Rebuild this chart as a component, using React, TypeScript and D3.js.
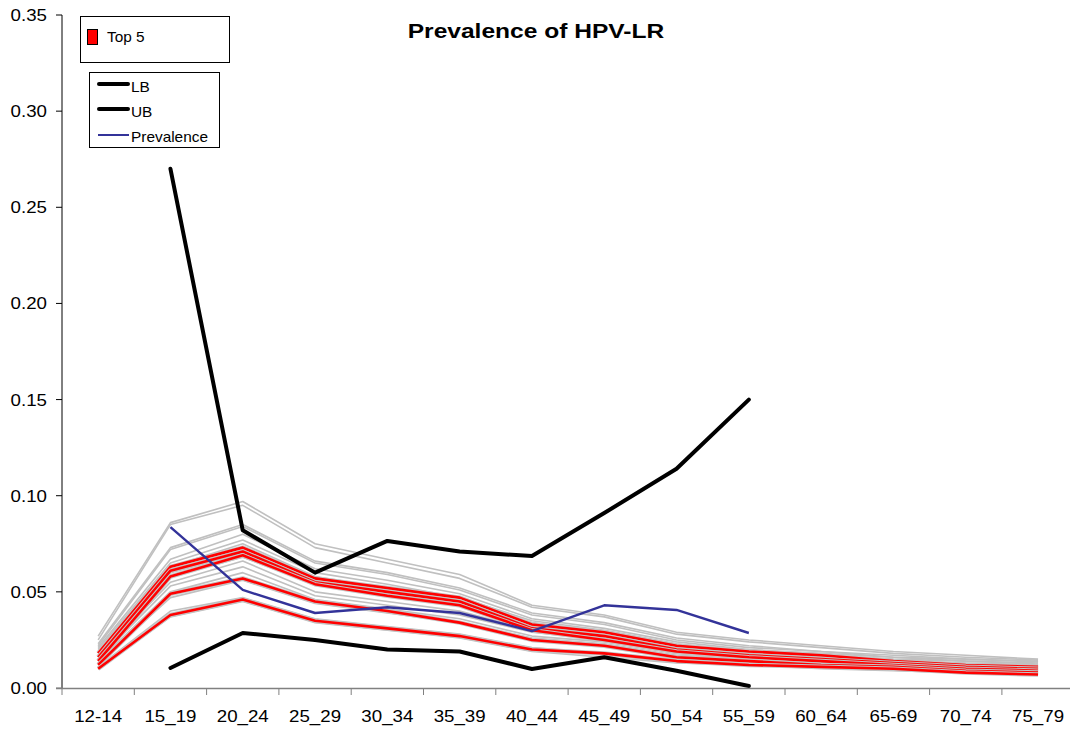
import React from "react";
import { scaleBand, scaleLinear, line } from "d3";

// age groups on the x axis
const categories = [
  "12-14", "15_19", "20_24", "25_29", "30_34", "35_39", "40_44",
  "45_49", "50_54", "55_59", "60_64", "65-69", "70_74", "75_79"
];
const yTicks = [0, 0.05, 0.1, 0.15, 0.2, 0.25, 0.3, 0.35];

// bounds and observed prevalence (only 15_19 .. 55_59)
const lb = [null, 0.0104, 0.0286, 0.025, 0.020, 0.019, 0.0099, 0.016, 0.009, 0.001, null, null, null, null];
const ub = [null, 0.270, 0.082, 0.060, 0.0765, 0.071, 0.0686, 0.091, 0.114, 0.150, null, null, null, null];
const prevalence = [null, 0.0837, 0.051, 0.039, 0.042, 0.039, 0.0296, 0.043, 0.0406, 0.0286, null, null, null, null];

// simulated fits (grey)
const grey1 = [0.027, 0.086, 0.097, 0.075, 0.067, 0.059, 0.043, 0.038, 0.029, 0.025, 0.022, 0.019, 0.017, 0.015];
const grey2 = [0.025, 0.085, 0.095, 0.073, 0.065, 0.057, 0.042, 0.037, 0.028, 0.024, 0.021, 0.018, 0.016, 0.0145];
const grey3 = [0.023, 0.073, 0.085, 0.066, 0.060, 0.052, 0.039, 0.034, 0.026, 0.022, 0.019, 0.017, 0.015, 0.014];
const grey4 = [0.022, 0.072, 0.084, 0.065, 0.059, 0.051, 0.038, 0.033, 0.025, 0.021, 0.019, 0.016, 0.015, 0.0135];
const grey5 = [0.021, 0.067, 0.080, 0.062, 0.056, 0.049, 0.036, 0.031, 0.024, 0.020, 0.018, 0.016, 0.014, 0.013];
const grey6 = [0.020, 0.065, 0.077, 0.060, 0.054, 0.047, 0.035, 0.030, 0.023, 0.019, 0.017, 0.015, 0.014, 0.0125];
const grey7 = [0.019, 0.063, 0.075, 0.058, 0.052, 0.046, 0.034, 0.029, 0.022, 0.019, 0.016, 0.014, 0.013, 0.012];
const grey8 = [0.018, 0.060, 0.070, 0.055, 0.050, 0.044, 0.032, 0.028, 0.021, 0.018, 0.016, 0.014, 0.012, 0.0115];
const grey9 = [0.017, 0.058, 0.068, 0.054, 0.048, 0.043, 0.031, 0.027, 0.020, 0.017, 0.015, 0.013, 0.012, 0.011];
const grey10 = [0.016, 0.055, 0.066, 0.050, 0.045, 0.040, 0.030, 0.026, 0.019, 0.016, 0.014, 0.013, 0.011, 0.0105];
const grey11 = [0.015, 0.053, 0.063, 0.048, 0.043, 0.038, 0.029, 0.025, 0.018, 0.016, 0.014, 0.012, 0.011, 0.010];
const grey12 = [0.014, 0.050, 0.060, 0.046, 0.041, 0.036, 0.027, 0.024, 0.018, 0.015, 0.013, 0.012, 0.010, 0.0095];
const grey13 = [0.013, 0.047, 0.056, 0.044, 0.039, 0.034, 0.026, 0.023, 0.017, 0.015, 0.013, 0.011, 0.010, 0.009];
const grey14 = [0.011, 0.040, 0.047, 0.036, 0.032, 0.028, 0.021, 0.018, 0.014, 0.013, 0.011, 0.010, 0.009, 0.008];
const grey15 = [0.010, 0.037, 0.045, 0.034, 0.030, 0.026, 0.019, 0.016, 0.013, 0.012, 0.010, 0.009, 0.008, 0.007];
const greys = [grey1, grey2, grey3, grey4, grey5, grey6, grey7, grey8, grey9, grey10, grey11, grey12, grey13, grey14, grey15];

// top 5 fits (red)
const top1 = [0.018, 0.063, 0.073, 0.057, 0.052, 0.047, 0.033, 0.029, 0.022, 0.019, 0.017, 0.014, 0.012, 0.011];
const top2 = [0.016, 0.061, 0.071, 0.055, 0.050, 0.045, 0.031, 0.027, 0.020, 0.017, 0.015, 0.013, 0.011, 0.010];
const top3 = [0.014, 0.058, 0.069, 0.054, 0.048, 0.043, 0.030, 0.025, 0.019, 0.016, 0.014, 0.012, 0.010, 0.009];
const top4 = [0.012, 0.049, 0.057, 0.045, 0.040, 0.034, 0.025, 0.022, 0.016, 0.014, 0.012, 0.011, 0.009, 0.008];
const top5 = [0.010, 0.038, 0.046, 0.035, 0.031, 0.027, 0.020, 0.018, 0.014, 0.012, 0.011, 0.010, 0.008, 0.007];
const tops = [top1, top2, top3, top4, top5];

const font = "Arial, 'Liberation Sans', sans-serif";
const sx = 1.17; // text in the original is a little wide

export default function App() {
  const x = scaleBand().domain(categories).range([62, 62 + 14 * 72.3]);
  const y = scaleLinear().domain([0, 0.35]).range([688, 15]);
  const bw = x.bandwidth();
  const cx = (i: number) => (x(categories[i]) as number) + bw / 2;

  const path = line<number | null>()
    .defined(d => d != null)
    .x((d, i) => cx(i))
    .y(d => y(d as number));

  const ticksX = categories.map(c => x(c) as number).concat([(x(categories[13]) as number) + bw]);

  return (
    <div style={{ position: "absolute", left: 0, top: 0 }}>
      <svg width={1070} height={730} style={{ display: "block", fontFamily: font }}>
        <rect width={1070} height={730} fill="#fff" />

        {/* Title */}
        <text transform={`translate(536,38) scale(${sx},1)`} textAnchor="middle" fontSize={21} fontWeight="bold">
          Prevalence of HPV-LR
        </text>

        {/* Lines */}
        <g fill="none" strokeLinejoin="round">
          {greys.map((s, i) => (
            <path key={"g" + i} d={path(s) as string} stroke="#c0c0c0" strokeWidth={1.6} />
          ))}
          {tops.map((s, i) => (
            <g key={"r" + i}>
              <path d={path(s) as string} stroke="#c4c4c4" strokeWidth={4.5} />
              <path d={path(s) as string} stroke="#ff0000" strokeWidth={2.6} />
            </g>
          ))}
          <path d={path(ub) as string} stroke="#000" strokeWidth={4} strokeLinecap="round" />
          <path d={path(lb) as string} stroke="#000" strokeWidth={4} strokeLinecap="round" />
          <path d={path(prevalence) as string} stroke="#333399" strokeWidth={2.4} />
        </g>

        {/* Y axis */}
        <line x1={62} x2={62} y1={15} y2={688} stroke="#000" />
        {yTicks.map(t => (
          <g key={t}>
            <line x1={56} x2={62} y1={y(t)} y2={y(t)} stroke={t === 0 ? "#808080" : "#000"} />
            <text transform={`translate(47,${y(t) + 6}) scale(${sx},1)`} textAnchor="end" fontSize={16}>
              {t.toFixed(2)}
            </text>
          </g>
        ))}

        {/* X axis */}
        <line x1={56} x2={1070} y1={688.5} y2={688.5} stroke="#808080" strokeWidth={1.5} />
        {ticksX.map((t, i) => (
          <line key={i} x1={t} x2={t} y1={688} y2={695} stroke="#808080" />
        ))}
        {categories.map((c, i) => (
          <text key={c} transform={`translate(${cx(i)},722) scale(${sx},1)`} textAnchor="middle" fontSize={16}>
            {c}
          </text>
        ))}

        {/* Legend: Top 5 */}
        <rect x={80.5} y={16.5} width={149} height={46} fill="#fff" stroke="#000" />
        <rect x={87.5} y={29.5} width={10} height={15} fill="#ff0000" stroke="#000" />
        <text transform={`translate(107,42) scale(1.1,1)`} fontSize={14}>Top 5</text>

        {/* Legend: bounds */}
        <rect x={89.5} y={72.5} width={130} height={75} fill="#fff" stroke="#000" />
        <line x1={99} x2={128} y1={84} y2={84} stroke="#000" strokeWidth={4} strokeLinecap="round" />
        <text transform={`translate(131,92) scale(1.1,1)`} fontSize={14}>LB</text>
        <line x1={99} x2={128} y1={109} y2={109} stroke="#000" strokeWidth={4} strokeLinecap="round" />
        <text transform={`translate(131,117) scale(1.1,1)`} fontSize={14}>UB</text>
        <line x1={98} x2={129} y1={135} y2={135} stroke="#333399" strokeWidth={2} />
        <text transform={`translate(131,142) scale(1.1,1)`} fontSize={14}>Prevalence</text>
      </svg>
    </div>
  );
}
